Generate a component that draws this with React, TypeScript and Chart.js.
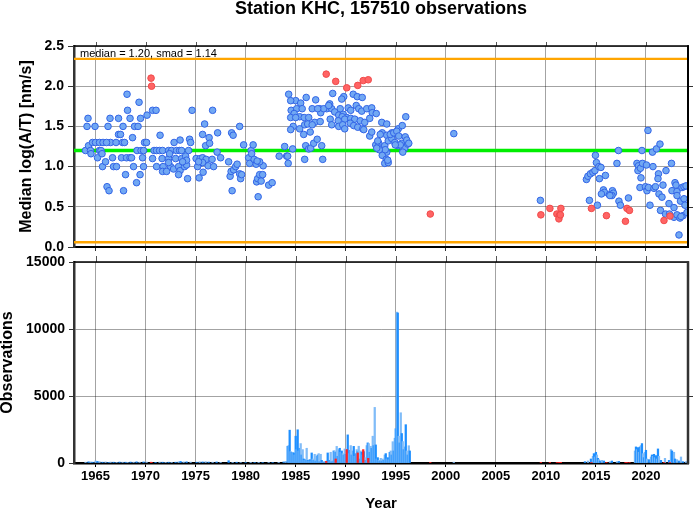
import React, { useEffect, useRef } from "react";
import { Chart, registerables } from "chart.js";

Chart.register(...registerables);

const FONT = "'Liberation Sans', Arial, Helvetica, sans-serif";

const chartTitle = "Station KHC, 157510 observations";
const statsLabel = "median = 1.20, smad = 1.14";
const medianValue = 1.2;
const upperLimit = 2.34;
const lowerLimit = 0.06;
const yearRange = [1962.85, 2024.2];
const yearTicks = [1965, 1970, 1975, 1980, 1985, 1990, 1995, 2000, 2005, 2010, 2015, 2020];
const medianTicks = [0, 0.5, 1, 1.5, 2, 2.5];
const obsTicks = [0, 5000, 10000, 15000];
const medianAxisTitle = "Median log(A/T) [nm/s]";
const obsAxisTitle = "Observations";
const yearAxisTitle = "Year";

// [year, median log(A/T)]
const bluePoints: [number, number][] = [
  [1964.0, 1.2], [1964.3, 1.26], [1964.5, 1.2], [1964.55, 1.16], [1964.7, 1.3], [1965.0, 1.3], [1965.2, 1.11],
  [1965.4, 1.3], [1965.4, 1.2], [1965.55, 1.2], [1965.65, 1.16], [1965.7, 1.0], [1966.0, 1.06], [1966.15, 0.75],
  [1966.35, 0.7], [1966.5, 1.3], [1966.7, 1.11], [1966.8, 1.0], [1967.05, 1.3], [1967.1, 1.0], [1967.3, 1.4],
  [1967.5, 1.4], [1967.6, 1.11], [1967.7, 1.3], [1967.9, 1.3], [1967.8, 0.7], [1968.0, 0.9], [1968.1, 1.11],
  [1968.45, 1.11], [1968.7, 1.36], [1968.8, 1.0], [1968.6, 1.11], [1969.1, 0.8], [1969.15, 1.2], [1969.45, 0.9],
  [1969.55, 1.2], [1969.7, 1.11], [1969.8, 1.2], [1969.9, 1.3], [1970.1, 1.3], [1969.8, 1.0], [1964.25, 1.6],
  [1964.15, 1.5], [1964.95, 1.5], [1966.25, 1.5], [1966.45, 1.6], [1967.3, 1.6], [1968.15, 1.9], [1968.2, 1.7],
  [1968.45, 1.6], [1967.75, 1.5], [1968.9, 1.5], [1969.25, 1.5], [1969.35, 1.8], [1969.5, 1.6], [1970.15, 1.64],
  [1970.7, 1.7], [1971.05, 1.7], [1971.45, 1.39], [1965.75, 1.3], [1966.1, 1.3],
  [1970.85, 1.2], [1971.1, 1.2], [1971.4, 1.2], [1971.7, 1.2], [1972.3, 1.2], [1972.6, 1.2], [1973.1, 1.2],
  [1973.4, 1.2], [1973.6, 1.2], [1974.3, 1.2], [1970.7, 1.1], [1971.65, 1.1], [1972.3, 1.1], [1973.0, 1.1],
  [1973.6, 1.1], [1971.1, 1.0], [1971.75, 1.0], [1972.5, 1.0], [1972.8, 0.97], [1973.3, 1.0], [1973.45, 0.95],
  [1973.9, 1.0], [1974.1, 1.02], [1971.7, 0.94], [1972.1, 0.94], [1973.3, 0.9], [1974.2, 0.85], [1972.4, 1.16],
  [1972.3, 1.05], [1972.85, 1.3], [1973.45, 1.33], [1974.4, 1.34], [1974.5, 1.3], [1974.0, 1.13], [1974.1, 1.08],
  [1973.7, 1.06], [1975.35, 0.86], [1974.65, 1.7], [1975.9, 1.53], [1975.7, 1.4], [1976.35, 1.36], [1976.0, 1.26],
  [1976.4, 1.29],
  [1975.05, 1.1], [1975.45, 1.1], [1975.7, 1.11], [1975.45, 1.04], [1975.75, 0.93], [1976.05, 1.09], [1976.25, 1.01],
  [1976.65, 1.09], [1976.8, 1.0], [1977.15, 1.18], [1977.5, 1.11], [1975.2, 1.0], [1975.7, 1.05], [1975.3, 1.06],
  [1976.7, 1.7], [1977.2, 1.42], [1978.3, 1.06], [1978.45, 0.88], [1978.55, 0.94], [1978.65, 0.7], [1978.8, 0.96],
  [1979.0, 1.0], [1979.15, 1.03], [1979.4, 0.91], [1979.5, 0.85], [1979.6, 0.9], [1979.8, 1.27], [1980.3, 1.11],
  [1980.4, 1.04], [1980.55, 1.2], [1980.6, 1.16], [1980.75, 1.27], [1980.85, 1.09], [1981.05, 1.03], [1981.1, 0.81],
  [1981.2, 0.85], [1981.4, 0.9], [1981.55, 0.82], [1981.75, 1.01], [1982.3, 0.77], [1982.65, 0.8], [1983.35, 1.13],
  [1978.6, 1.42], [1978.75, 1.39], [1979.4, 1.5], [1981.25, 0.625], [1981.4, 1.06], [1983.9, 1.25], [1984.1, 1.13],
  [1981.15, 1.07], [1981.7, 0.9],
  [1984.7, 1.22], [1984.2, 1.13], [1984.25, 1.04], [1986.0, 1.26], [1985.9, 1.09], [1986.3, 1.22], [1986.5, 1.23],
  [1986.8, 1.29], [1987.15, 1.34], [1987.6, 1.26], [1987.7, 1.09], [1984.3, 1.9], [1985.0, 1.82], [1984.55, 1.7],
  [1985.1, 1.72], [1986.05, 1.86], [1987.0, 1.83], [1988.7, 1.91], [1984.75, 1.5], [1984.5, 1.46], [1984.5, 1.82],
  [1985.5, 1.79], [1985.65, 1.72], [1986.65, 1.72], [1987.4, 1.72], [1988.1, 1.72], [1988.6, 1.72], [1989.45, 1.72],
  [1988.4, 1.78], [1989.8, 1.87], [1989.6, 1.84], [1990.75, 1.9], [1991.15, 1.87], [1991.65, 1.86], [1990.25, 1.73],
  [1990.5, 1.7], [1991.05, 1.76], [1991.3, 1.72], [1991.6, 1.69], [1992.1, 1.72], [1992.6, 1.73], [1992.65, 1.67],
  [1993.05, 1.66], [1984.85, 1.66], [1985.4, 1.62], [1985.85, 1.61], [1986.3, 1.61], [1984.5, 1.61], [1985.0, 1.61],
  [1987.5, 1.67], [1987.8, 1.72], [1987.2, 1.72], [1988.3, 1.76], [1988.9, 1.68], [1989.3, 1.64], [1989.75, 1.65],
  [1990.1, 1.61], [1989.65, 1.62], [1988.45, 1.59], [1988.6, 1.52], [1989.25, 1.57], [1989.9, 1.59], [1990.5, 1.6],
  [1990.9, 1.59], [1991.45, 1.57], [1991.9, 1.55], [1992.4, 1.6], [1985.4, 1.47], [1985.9, 1.52], [1986.2, 1.53],
  [1986.9, 1.55], [1987.45, 1.56], [1986.65, 1.52], [1985.8, 1.4], [1986.45, 1.43], [1989.3, 1.5], [1989.7, 1.52],
  [1989.9, 1.47], [1990.45, 1.54], [1990.8, 1.51], [1991.2, 1.49], [1991.7, 1.47], [1992.4, 1.38], [1992.6, 1.43],
  [1993.6, 1.55], [1994.1, 1.53], [1993.65, 1.42], [1994.1, 1.39], [1994.6, 1.42], [1995.25, 1.47], [1995.65, 1.51],
  [1996.0, 1.62], [1993.0, 1.27], [1993.3, 1.29], [1993.4, 1.23], [1993.9, 1.26], [1994.25, 1.32], [1994.6, 1.35],
  [1994.9, 1.3], [1995.25, 1.26], [1995.6, 1.29], [1995.9, 1.23], [1996.2, 1.28], [1995.7, 1.18], [1994.1, 1.18],
  [1993.65, 1.14], [1994.05, 1.09], [1993.9, 1.04], [1994.25, 1.05], [1993.2, 1.32], [1991.8, 1.46], [1993.45, 1.4],
  [1994.45, 1.4], [1994.8, 1.42], [1995.1, 1.44], [1995.3, 1.38], [1995.95, 1.37], [1996.1, 1.33], [1996.3, 1.29],
  [1995.45, 1.27], [1994.95, 1.27], [1993.95, 1.21], [1994.2, 1.08], [1993.35, 1.21], [1993.1, 1.23],
  [2000.8, 1.41], [2009.45, 0.58],
  [2014.35, 0.58], [2015.15, 0.52], [2014.05, 0.84], [2014.2, 0.88], [2014.45, 0.91], [2014.7, 0.93], [2014.9, 0.95],
  [2014.95, 1.14], [2015.05, 1.05], [2015.3, 1.0], [2015.5, 0.99], [2015.35, 0.85], [2015.95, 0.89], [2015.75, 0.71],
  [2015.85, 0.68], [2015.55, 0.66], [2016.35, 0.65], [2016.65, 0.7], [2016.75, 0.67], [2016.6, 0.64], [2016.4, 0.64],
  [2017.1, 1.04], [2017.25, 1.2], [2017.3, 0.57], [2017.45, 0.52], [2018.25, 0.61], [2019.6, 1.2], [2020.2, 1.45],
  [2020.65, 1.18], [2021.05, 1.22], [2021.4, 1.28], [2019.1, 1.04], [2019.25, 1.01], [2019.2, 0.95], [2019.45, 0.98],
  [2019.65, 1.04], [2020.05, 1.02], [2019.5, 0.86], [2019.4, 0.74], [2019.95, 0.75], [2020.1, 0.7], [2020.25, 0.74],
  [2020.8, 0.73], [2020.95, 0.75], [2020.7, 1.0], [2021.25, 0.91], [2021.2, 0.85], [2021.7, 0.77], [2022.0, 0.95],
  [2022.55, 1.04], [2020.4, 0.52], [2021.3, 0.66], [2021.6, 0.62], [2021.45, 0.455], [2021.95, 0.41], [2022.3, 0.54],
  [2022.8, 0.49], [2022.35, 0.41], [2022.8, 0.37], [2023.1, 0.4], [2022.9, 0.8], [2023.0, 0.77], [2022.6, 0.7],
  [2023.1, 0.69], [2023.1, 0.64], [2023.45, 0.57], [2023.6, 0.74], [2023.8, 0.75], [2024.0, 0.76], [2023.8, 0.6],
  [2023.9, 0.52], [2023.7, 0.39], [2023.4, 0.36], [2023.3, 0.15], [2024.1, 0.43], [2023.5, 0.38],
];

// [year, median log(A/T)] for outlying bins
const redPoints: [number, number][] = [
  [1970.55, 2.1], [1970.6, 2.0], [1988.05, 2.15], [1989.0, 2.06], [1990.1, 1.98], [1991.2, 2.01], [1991.75, 2.07],
  [1992.25, 2.08], [1998.45, 0.41], [2009.5, 0.4], [2010.4, 0.48], [2011.1, 0.41], [2011.35, 0.39], [2011.3, 0.35],
  [2011.5, 0.48], [2011.45, 0.4], [2014.55, 0.48], [2016.05, 0.39], [2017.95, 0.32], [2018.1, 0.48], [2018.35, 0.455],
  [2021.8, 0.33], [2022.4, 0.385],
];
// observation counts of the red bins, same order as redPoints
const redCounts = [
  60, 40, 120, 300, 1000, 750, 1000,
  350, 20, 25, 20, 30, 30, 30,
  30, 30, 30, 20, 20, 30, 30,
  30, 30,
];

// [year, observations]
const obsBars: [number, number][] = [
  [1964.0, 60], [1964.3, 90], [1964.5, 80], [1964.7, 60], [1965.0, 150], [1965.2, 120], [1965.4, 100], [1965.7, 60],
  [1966.0, 80], [1966.3, 50], [1966.5, 70], [1966.8, 60], [1967.1, 50], [1967.4, 70], [1967.7, 60], [1968.0, 60],
  [1968.2, 50], [1968.5, 70], [1968.8, 60], [1969.1, 90], [1969.4, 60], [1969.8, 80], [1970.1, 70], [1971.0, 50],
  [1971.4, 70], [1971.7, 60], [1972.0, 50], [1972.3, 60], [1972.6, 50], [1973.0, 60], [1973.3, 90], [1973.5, 120],
  [1973.8, 80], [1974.1, 90], [1974.5, 70], [1975.1, 60], [1975.4, 90], [1975.7, 80], [1976.0, 100], [1976.3, 70],
  [1976.7, 60], [1977.1, 80], [1977.5, 50], [1978.3, 170], [1978.7, 50], [1979.1, 60], [1979.5, 40], [1980.0, 40],
  [1980.5, 50], [1980.9, 40], [1981.3, 50], [1981.7, 40], [1982.3, 30], [1982.7, 40], [1983.3, 50], [1983.8, 80],
  [1984.0, 120],
  [1984.2, 1250], [1984.3, 1300], [1984.4, 2450], [1984.5, 850], [1984.6, 800], [1984.7, 800], [1984.8, 750],
  [1984.9, 600], [1985.0, 2000], [1985.1, 1000], [1985.2, 2480], [1985.3, 900], [1985.4, 1100], [1985.5, 1450],
  [1985.6, 600], [1985.7, 1000], [1985.8, 300], [1985.9, 200], [1986.0, 250], [1986.1, 1100], [1986.2, 200],
  [1986.3, 150], [1986.4, 250], [1986.5, 150], [1986.6, 750], [1986.7, 300], [1986.8, 200], [1986.9, 650],
  [1987.0, 150], [1987.1, 500], [1987.2, 600], [1987.3, 700], [1987.4, 100], [1987.5, 650], [1987.6, 200],
  [1987.7, 50], [1987.8, 80], [1987.9, 100], [1988.0, 60], [1988.1, 150], [1988.2, 750], [1988.3, 80],
  [1988.4, 200], [1988.5, 800], [1988.6, 100], [1988.7, 150], [1988.8, 900], [1988.9, 900], [1989.0, 800],
  [1989.1, 1240], [1989.2, 500], [1989.3, 1000], [1989.4, 1100], [1989.5, 800], [1989.6, 900], [1989.7, 700],
  [1989.8, 600], [1989.9, 1050], [1990.0, 650], [1990.1, 1000], [1990.2, 2100], [1990.3, 700], [1990.4, 950],
  [1990.5, 1300], [1990.6, 600], [1990.7, 900], [1990.8, 1240], [1990.9, 500], [1991.0, 700], [1991.1, 1000],
  [1991.2, 850], [1991.3, 1250], [1991.4, 300], [1991.5, 900], [1991.6, 800], [1991.7, 600], [1991.8, 850],
  [1991.9, 400], [1992.0, 200], [1992.1, 1300], [1992.2, 1500], [1992.3, 1450], [1992.4, 800], [1992.5, 1250],
  [1992.6, 1100], [1992.7, 2000], [1992.8, 1300], [1992.9, 4150], [1993.0, 1350], [1993.1, 300], [1993.2, 400],
  [1993.3, 200], [1993.4, 150], [1993.5, 350], [1993.6, 150], [1993.7, 300], [1993.8, 200], [1993.9, 600],
  [1994.0, 700], [1994.1, 300], [1994.2, 400], [1994.3, 250], [1994.4, 800], [1994.5, 900], [1994.6, 600],
  [1994.7, 1590], [1994.8, 900], [1994.9, 1850], [1995.0, 2560], [1995.1, 11260], [1995.2, 11200], [1995.3, 2000],
  [1995.4, 1500], [1995.5, 3750], [1995.6, 2200], [1995.7, 1600], [1995.8, 1000], [1995.9, 1200], [1996.0, 2860],
  [1996.1, 900], [1996.2, 600], [1996.3, 1290], [1996.4, 900],
  [2000.8, 60],
  [2013.9, 100], [2014.2, 150], [2014.5, 300], [2014.7, 500], [2014.8, 700], [2014.9, 450], [2015.0, 800],
  [2015.1, 600], [2015.2, 350], [2015.3, 250], [2015.4, 150], [2015.6, 200], [2015.8, 150], [2016.4, 100],
  [2016.6, 150], [2017.1, 100], [2017.3, 120], [2018.9, 900], [2019.0, 1200], [2019.1, 1000], [2019.2, 1150],
  [2019.3, 800], [2019.4, 1200], [2019.5, 1300], [2019.6, 1450], [2019.7, 700], [2019.8, 400], [2019.9, 800],
  [2020.0, 950], [2020.1, 300], [2020.3, 250], [2020.5, 450], [2020.6, 600], [2020.7, 500], [2020.8, 650],
  [2020.9, 400], [2021.0, 550], [2021.1, 300], [2021.2, 1050], [2021.3, 500], [2021.5, 200], [2021.9, 350],
  [2022.3, 200], [2022.5, 1000], [2022.6, 900], [2022.8, 800], [2022.9, 300], [2023.1, 250], [2023.3, 150],
  [2023.5, 450], [2023.7, 100], [2024.0, 100],
];

const GRID = "rgba(0,0,0,0.36)";

function framePlugin(o: { rightColor: string; rightWidth: number; yTicks: number[]; topTickLen: number; rightTickLen: number }) {
  return {
    id: "frame",
    afterDraw(chart: any) {
      const { ctx, chartArea } = chart;
      const { left, right, top, bottom } = chartArea;
      const xs = chart.scales.x;
      const ys = chart.scales.y;
      ctx.save();
      ctx.lineCap = "butt";
      ctx.strokeStyle = "#555";
      ctx.lineWidth = 1;
      for (const v of yearTicks) {
        const px = Math.round(xs.getPixelForValue(v)) + 0.5;
        ctx.beginPath();
        ctx.moveTo(px, top - o.topTickLen);
        ctx.lineTo(px, top);
        ctx.stroke();
      }
      ctx.strokeStyle = "#333";
      ctx.lineWidth = 1;
      for (const v of o.yTicks) {
        const py = Math.round(ys.getPixelForValue(v)) + 0.5;
        ctx.beginPath();
        ctx.moveTo(right, py);
        ctx.lineTo(right + o.rightTickLen, py);
        ctx.stroke();
      }
      ctx.strokeStyle = "#000";
      ctx.lineWidth = 1.6;
      ctx.beginPath();
      ctx.moveTo(left, top);
      ctx.lineTo(right + 1, top);
      ctx.stroke();
      ctx.strokeStyle = o.rightColor;
      ctx.lineWidth = o.rightWidth;
      ctx.beginPath();
      ctx.moveTo(right, top - 0.8);
      ctx.lineTo(right, bottom + 1);
      ctx.stroke();
      ctx.restore();
    },
  };
}

const tickFont = { family: FONT, size: 14, weight: "bold" as const };

function fixSize(prop: "width" | "height", size: number) {
  return (s: any) => {
    s[prop] = size;
    s.paddingTop = 0;
    s.paddingBottom = 0;
    s.paddingLeft = 0;
    s.paddingRight = 0;
  };
}

function topConfig(): any {
  const hline = (y: number, color: string, width: number) => ({
    type: "line",
    data: yearRange.map((x) => ({ x, y })),
    borderColor: color,
    borderWidth: width,
    pointRadius: 0,
    fill: false,
    order: 3,
  });
  return {
    type: "scatter",
    data: {
      datasets: [
        hline(upperLimit, "#ffa500", 2.4),
        hline(lowerLimit, "#ffa500", 2.4),
        hline(medianValue, "#00ee00", 3.5),
        {
          data: bluePoints.map(([x, y]) => ({ x, y })),
          backgroundColor: "#71a8f3",
          borderColor: "#3264e6",
          borderWidth: 1,
          pointRadius: 3.3,
          order: 2,
        },
        {
          data: redPoints.map(([x, y]) => ({ x, y })),
          backgroundColor: "#ff6464",
          borderColor: "#f04a4a",
          borderWidth: 1,
          pointRadius: 3.3,
          order: 1,
        },
      ],
    },
    options: {
      animation: false,
      responsive: false,
      devicePixelRatio: 1,
      events: [],
      layout: { padding: { top: 46, right: 5, left: 0, bottom: 0 } },
      plugins: { legend: { display: false }, tooltip: { enabled: false } },
      scales: {
        x: {
          type: "linear",
          min: yearRange[0],
          max: yearRange[1],
          offset: false,
          afterBuildTicks: (s: any) => {
            s.ticks = yearTicks.map((value) => ({ value }));
          },
          afterFit: fixSize("height", 9),
          ticks: { display: false },
          grid: { color: GRID, lineWidth: 1, drawTicks: true, tickLength: 4, tickColor: "#333", offset: false },
          border: { color: "#000", width: 2 },
        },
        y: {
          min: 0,
          max: 2.5,
          afterBuildTicks: (s: any) => {
            s.ticks = medianTicks.map((value) => ({ value }));
          },
          afterFit: fixSize("width", 74),
          ticks: { font: tickFont, color: "#000", padding: 4, callback: (v: any) => Number(v).toFixed(1) },
          grid: { color: GRID, lineWidth: 1, tickLength: 6, tickColor: "#333" },
          border: { color: "#333", width: 2.5 },
          title: {
            display: true,
            text: medianAxisTitle,
            color: "#000",
            font: { family: FONT, size: 16, weight: "bold", lineHeight: 1 },
            padding: { top: 19, bottom: 0 },
          },
        },
      },
    },
    plugins: [framePlugin({ rightColor: "#000", rightWidth: 2, yTicks: [0.5, 1, 1.5, 2], topTickLen: 4, rightTickLen: 5 })],
  };
}

function bottomConfig(): any {
  return {
    type: "bar",
    data: {
      datasets: [
        {
          data: redPoints.map((p, i) => ({ x: p[0], y: redCounts[i] })),
          backgroundColor: "#ff2222",
          barThickness: 1.6,
          grouped: false,
          order: 0,
        },
        {
          data: obsBars.map(([x, y]) => ({ x, y })),
          backgroundColor: (c: any) => (c.dataIndex % 2 ? "#1e8fff" : "#80bcf8"),
          barThickness: 1.6,
          grouped: false,
          order: 1,
        },
      ],
    },
    options: {
      animation: false,
      responsive: false,
      devicePixelRatio: 1,
      events: [],
      layout: { padding: { top: 6, right: 5, left: 0, bottom: 0 } },
      plugins: { legend: { display: false }, tooltip: { enabled: false } },
      scales: {
        x: {
          type: "linear",
          min: yearRange[0],
          max: yearRange[1],
          offset: false,
          afterBuildTicks: (s: any) => {
            s.ticks = yearTicks.map((value) => ({ value }));
          },
          afterFit: fixSize("height", 48),
          ticks: {
            font: { family: FONT, size: 13, weight: "bold" },
            color: "#000",
            padding: 2,
            maxRotation: 0,
            autoSkip: false,
            callback: (v: any) => String(v),
          },
          grid: { color: GRID, lineWidth: 1, offset: false, tickLength: 4, tickColor: "#000" },
          border: { color: "#000", width: 2.5 },
          title: {
            display: true,
            text: yearAxisTitle,
            color: "#000",
            font: { family: FONT, size: 15, weight: "bold", lineHeight: 1 },
            padding: { top: 0, bottom: 0 },
          },
        },
        y: {
          min: 0,
          max: 15000,
          afterBuildTicks: (s: any) => {
            s.ticks = obsTicks.map((value) => ({ value }));
          },
          afterFit: fixSize("width", 74),
          ticks: { font: tickFont, color: "#000", padding: 4, callback: (v: any) => String(v) },
          grid: { color: GRID, lineWidth: 1, tickLength: 5, tickColor: "#333" },
          border: { color: "#333", width: 2.5 },
          title: {
            display: true,
            text: obsAxisTitle,
            color: "#000",
            font: { family: FONT, size: 16, weight: "bold", lineHeight: 1 },
            padding: { top: 0, bottom: 0 },
          },
        },
      },
    },
    plugins: [framePlugin({ rightColor: "#333", rightWidth: 2.5, yTicks: [5000, 10000], topTickLen: 6, rightTickLen: 5 })],
  };
}

export default function App() {
  const topRef = useRef<HTMLCanvasElement>(null);
  const botRef = useRef<HTMLCanvasElement>(null);

  useEffect(() => {
    const top = new Chart(topRef.current as HTMLCanvasElement, topConfig());
    const bot = new Chart(botRef.current as HTMLCanvasElement, bottomConfig());
    return () => {
      top.destroy();
      bot.destroy();
    };
  }, []);

  return (
    <div style={{ position: "absolute", left: 0, top: 0, width: 693, height: 511, background: "#fff", fontFamily: FONT }}>
      <canvas ref={topRef} width={693} height={256} style={{ position: "absolute", left: 0, top: 0, width: 693, height: 256 }} />
      <canvas ref={botRef} width={693} height={255} style={{ position: "absolute", left: 0, top: 256, width: 693, height: 255 }} />
      <div
        style={{
          position: "absolute",
          left: 74,
          width: 614,
          top: -1,
          textAlign: "center",
          font: `bold 18px/18px ${FONT}`,
          color: "#000",
          whiteSpace: "nowrap",
        }}
      >
        {chartTitle}
      </div>
      <div
        style={{
          position: "absolute",
          left: 80,
          top: 47.5,
          font: `11px/11px ${FONT}`,
          color: "#000",
          whiteSpace: "nowrap",
        }}
      >
        {statsLabel}
      </div>
    </div>
  );
}
